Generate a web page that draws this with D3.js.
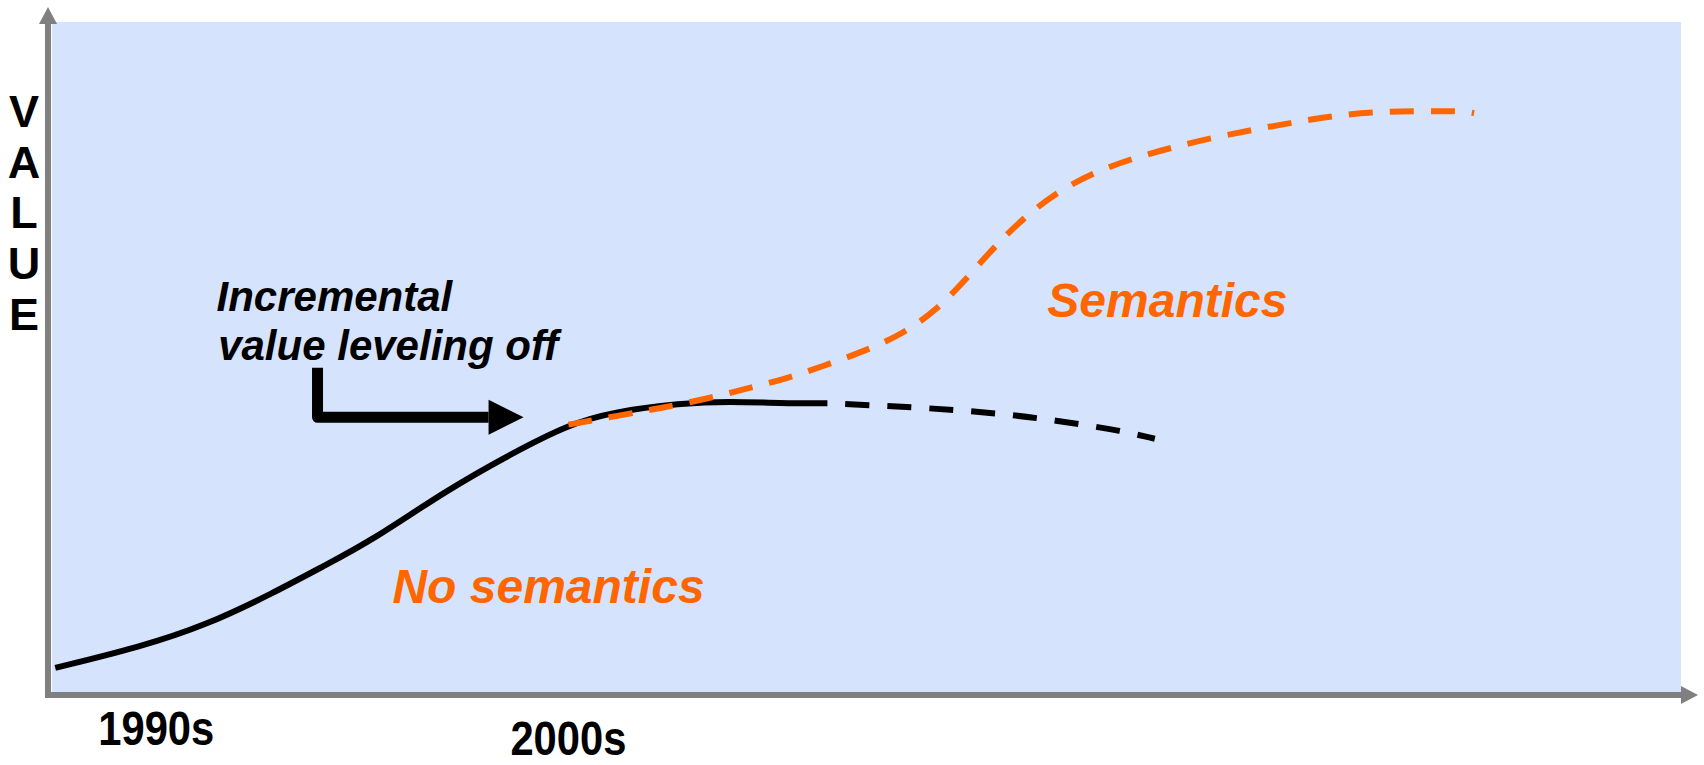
<!DOCTYPE html>
<html>
<head>
<meta charset="utf-8">
<script src="https://cdn.jsdelivr.net/npm/d3@7"></script>
<style>
  html, body { margin: 0; padding: 0; background: #fff; }
  svg { display: block; }
</style>
</head>
<body>
<div id="chart"></div>
<script>
// conceptual chart, both axes in 0..100 units
let svgWidth = 1704;
let svgHeight = 765;
let plot = { left: 52, right: 1681, top: 22, bottom: 692 };

// no semantics, solid part
let solidT = [0.2, 5.4, 9.5, 13.6, 16.6, 19.7, 24.2, 28.3, 31.7, 34.4, 38.6, 41.6, 44.7, 47.6];
let solidV = [3.6, 6.7, 10.0, 14.8, 18.7, 22.7, 30.1, 35.7, 39.9, 41.8, 43.1, 43.4, 43.1, 43.1];

// no semantics, leveling off (dashed)
let fadeT = [47.6, 50.2, 52.8, 55.4, 57.9, 60.5, 63.0, 65.6, 67.7];
let fadeV = [43.1, 42.8, 42.5, 42.1, 41.6, 40.9, 40.0, 39.0, 37.8];

// semantics (orange dashed)
let semT = [31.7, 34.9, 37.4, 40.1, 42.5, 45.0, 47.4, 49.9, 52.2, 54.3, 56.1, 57.8, 59.6, 61.7, 63.9, 66.4, 68.8, 71.4, 73.9, 76.4, 78.9, 81.5, 84.1, 86.6, 87.3];
let semV = [39.9, 41.3, 42.4, 43.7, 45.2, 46.7, 48.7, 50.9, 53.4, 57.0, 61.6, 66.3, 70.7, 74.6, 77.5, 79.7, 81.3, 82.8, 84.0, 85.1, 86.1, 86.6, 86.7, 86.7, 86.4];

let periods = ['1990s', '2000s'];
let periodT = [6.4, 31.7];
let yTitle = 'VALUE';

let annoLines = ['Incremental', 'value leveling off'];
let annoT = [10.1, 10.2];
let annoV = [56.9, 49.6];
let arrowT = [16.3, 16.3, 26.8];
let arrowV = [48.4, 41.0, 41.0];

let orange = '#ff6600';
let gray = '#808080';

let x = d3.scaleLinear().domain([0, 100]).range([plot.left, plot.right]);
let y = d3.scaleLinear().domain([0, 100]).range([plot.bottom, plot.top]);

let svg = d3.select('#chart')
            .append('svg')
            .attr('width', svgWidth)
            .attr('height', svgHeight);

svg.append('rect')
    .attr('x', x(0))
    .attr('y', y(100))
    .attr('width', x(100) - x(0))
    .attr('height', y(0) - y(100))
    .attr('fill', '#d6e3fc');

// axes with arrow heads
let ax = x(0) - 4;
let ay = y(0) + 3;
svg.append('line')
    .attr('x1', ax).attr('x2', ax)
    .attr('y1', ay + 3).attr('y2', y(100) + 2)
    .attr('stroke', gray).attr('stroke-width', 6);
svg.append('path')
    .attr('d', `M${ax - 9},${y(100) + 2} L${ax},${y(100) - 15} L${ax + 9},${y(100) + 2} Z`)
    .attr('fill', gray);
svg.append('line')
    .attr('x1', ax - 3).attr('x2', x(100))
    .attr('y1', ay).attr('y2', ay)
    .attr('stroke', gray).attr('stroke-width', 6);
svg.append('path')
    .attr('d', `M${x(100)},${ay - 9} L${x(100) + 17},${ay} L${x(100)},${ay + 9} Z`)
    .attr('fill', gray);

// y title, stacked letters
svg.append('g')
    .selectAll('text')
    .data(yTitle.split(''))
    .join('text')
    .attr('x', 24)
    .attr('y', (d, i) => 127 + i * 50.7)
    .attr('text-anchor', 'middle')
    .attr('font-family', 'Liberation Sans, Arial, sans-serif')
    .attr('font-weight', 'bold')
    .attr('font-size', 45)
    .text(d => d);

// period labels (staggered)
svg.append('g')
    .selectAll('text')
    .data(periods)
    .join('text')
    .attr('x', (d, i) => x(periodT[i]))
    .attr('y', (d, i) => 745 + i * 10)
    .attr('text-anchor', 'middle')
    .attr('font-family', 'Liberation Sans Narrow, Liberation Sans, Arial, sans-serif')
    .attr('font-weight', 'bold')
    .attr('font-size', 49)
    .attr('textLength', 116)
    .attr('lengthAdjust', 'spacingAndGlyphs')
    .text(d => d);

let line = d3.line()
    .x(d => x(d[0]))
    .y(d => y(d[1]))
    .curve(d3.curveBasis);

svg.append('path')
    .attr('d', line(d3.zip(solidT, solidV)))
    .attr('fill', 'none')
    .attr('stroke', '#000')
    .attr('stroke-width', 6)
    .attr('stroke-linecap', 'butt');

svg.append('path')
    .attr('d', line(d3.zip(fadeT, fadeV)))
    .attr('fill', 'none')
    .attr('stroke', '#000')
    .attr('stroke-width', 6)
    .attr('stroke-dasharray', '24,18')
    .attr('stroke-dashoffset', 24);

svg.append('path')
    .attr('d', line(d3.zip(semT, semV)))
    .attr('fill', 'none')
    .attr('stroke', orange)
    .attr('stroke-width', 6)
    .attr('stroke-dasharray', '24,17');

// labels
svg.append('text')
    .attr('x', x(61.1)).attr('y', y(56.0))
    .attr('font-family', 'Liberation Sans, Arial, sans-serif')
    .attr('font-weight', 'bold').attr('font-style', 'italic')
    .attr('font-size', 48)
    .attr('fill', orange)
    .text('Semantics');

svg.append('text')
    .attr('x', x(20.9)).attr('y', y(13.3))
    .attr('font-family', 'Liberation Sans, Arial, sans-serif')
    .attr('font-weight', 'bold').attr('font-style', 'italic')
    .attr('font-size', 48)
    .attr('fill', orange)
    .text('No semantics');

svg.append('g')
    .selectAll('text')
    .data(annoLines)
    .join('text')
    .attr('x', (d, i) => x(annoT[i]))
    .attr('y', (d, i) => y(annoV[i]))
    .attr('font-family', 'Liberation Sans, Arial, sans-serif')
    .attr('font-weight', 'bold').attr('font-style', 'italic')
    .attr('font-size', 42)
    .text(d => d);

// bent arrow
let arrowPts = d3.zip(arrowT, arrowV);
svg.append('path')
    .attr('d', d3.line().x(d => x(d[0])).y(d => y(d[1]))(arrowPts))
    .attr('fill', 'none')
    .attr('stroke', '#000')
    .attr('stroke-width', 11)
    .attr('stroke-linejoin', 'round');
let tip = arrowPts[arrowPts.length - 1];
let tx = x(tip[0]), ty = y(tip[1]);
svg.append('path')
    .attr('d', `M${tx},${ty - 17.5} L${tx + 35},${ty} L${tx},${ty + 17.5} Z`)
    .attr('fill', '#000');
</script>
</body>
</html>
